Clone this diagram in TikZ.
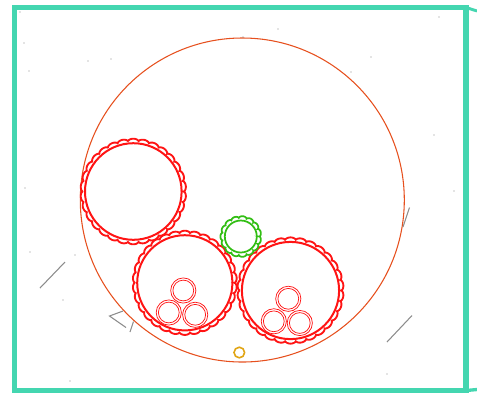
\documentclass[tikz,border=0pt]{standalone}
\usetikzlibrary{calc}
\definecolor{frameteal}{RGB}{68,214,176}
\definecolor{bigorange}{RGB}{230,80,30}
\definecolor{ringred}{RGB}{255,20,20}
\definecolor{ringgreen}{RGB}{50,190,20}
\definecolor{smallgold}{RGB}{225,165,20}
\definecolor{speck}{RGB}{140,140,140}
\tikzset{
  frame/.style={draw=frameteal, line width=3.8pt},
  outer/.style={draw=bigorange, line width=0.8pt},
  redring/.style={draw=ringred, line width=1.5pt},
  redscallop/.style={draw=ringred, line width=1.4pt},
  greenring/.style={draw=ringgreen, line width=1.3pt},
  thinred/.style={draw=ringred, line width=0.55pt},
  stroke/.style={draw=speck, line width=0.8pt},
  dot/.style={fill=speck},
}
\newcommand{\scallop}[6]{% x, y, base r, amp, n, style
  \draw[#6] plot[domain=0:360, samples=720] ({#1+(#3+#4*sqrt(abs(sin(#5*\x/2))))*cos(\x)}, {#2+(#3+#4*sqrt(abs(sin(#5*\x/2))))*sin(\x)}) -- cycle;
}
\begin{document}
\begin{tikzpicture}[x=0.75pt, y=-0.75pt]
\useasboundingbox (0,0) rectangle (477,394);
% frame
\draw[frame] (14.5,7.5) -- (466,7.5) -- (466,390.5) -- (14.5,390.5) -- cycle;
\draw[frame, line width=2.2pt] (466,7.5) -- (477,11);
\draw[frame, line width=2.5pt] (466,390.5) -- (477,389.5);
% big orange circle
\draw[outer] (242.3,200) circle[radius=162];
% big red circles
\draw[redring] (133.3,191.5) circle[radius=48.3];
\scallop{133.3}{191.5}{50.3}{2.5}{30}{redscallop}
\draw[redring] (184.8,282.8) circle[radius=47.6];
\scallop{184.8}{282.8}{49.6}{2.5}{30}{redscallop}
\draw[redring] (290.5,290.5) circle[radius=48.6];
\scallop{290.5}{290.5}{50.6}{2.5}{30}{redscallop}
% green
\draw[greenring] (240.8,236.5) circle[radius=16];
\scallop{240.8}{236.5}{18.4}{2.0}{15}{greenring}
% small double rings
\foreach \cx/\cy in {183.3/290.5, 168.8/312.5, 195.2/314.8, 288.3/298.8, 273.8/321.3, 299.8/323} {
  \draw[thinred] (\cx,\cy) circle[radius=12.6];
  \draw[thinred] (\cx,\cy) circle[radius=10.4];
}
% small gold ring
\draw[smallgold, line width=1.2pt] (239.3,352.5) circle[radius=5.3];
% gray strokes
\draw[stroke] (40,288) -- (65,262);
\draw[stroke] (123,311) -- (109.5,316) -- (126,327.5);
\draw[stroke] (130,332) -- (133.5,321.5);
\draw[stroke] (403,227) -- (409.5,207.5);
\draw[stroke] (387,342) -- (412,315.5);
% specks
\foreach \px/\py in {20/12, 24/43, 29/71, 88/61, 111/59, 278/29, 439/17, 371/57, 351/72, 434/135, 25/188, 454/191, 30/252, 75/255, 63/300, 387/374, 70/381, 243/37} {
  \fill[dot] (\px,\py) circle[radius=0.7];
}
\end{tikzpicture}
\end{document}
